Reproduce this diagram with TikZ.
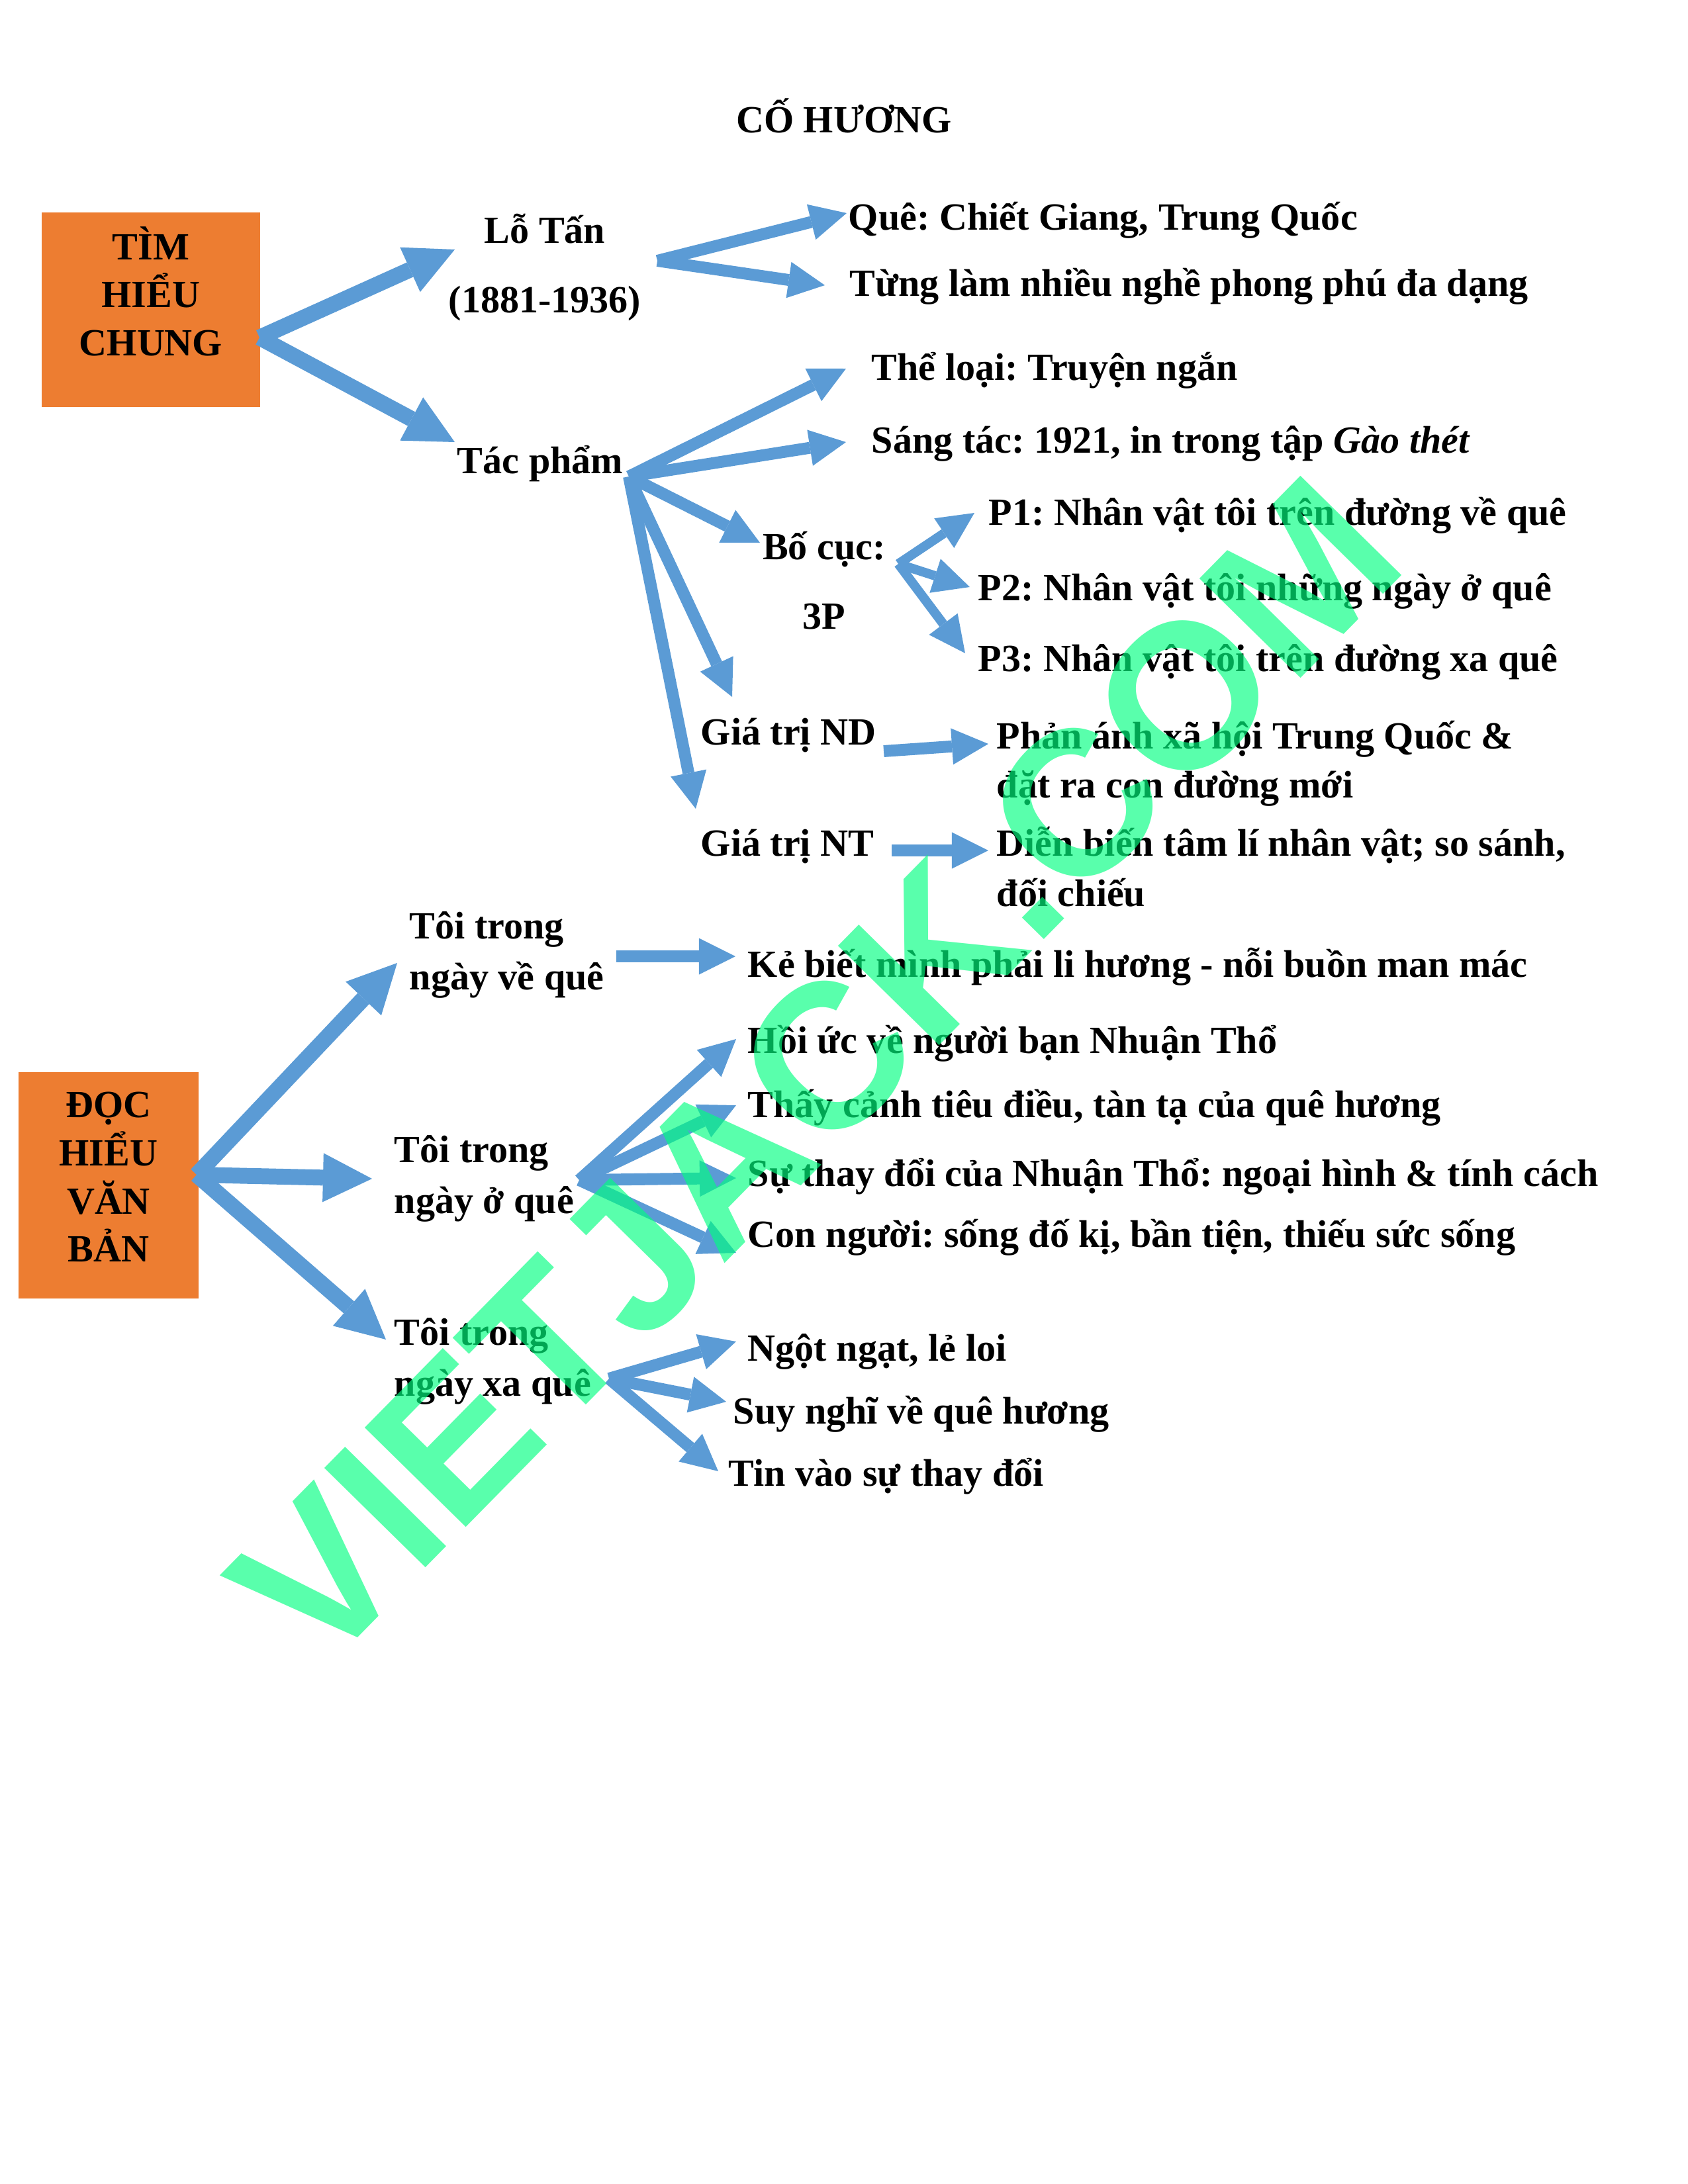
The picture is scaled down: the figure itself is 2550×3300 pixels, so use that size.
\documentclass[tikz,border=0pt]{standalone}
\usepackage{fontspec}
\setmainfont{Liberation Serif}
\newfontfamily\wmfont{Liberation Sans}
\usetikzlibrary{arrows.meta,calc}
\frenchspacing

\definecolor{boxorange}{HTML}{ED7D31}
\definecolor{arrowblue}{HTML}{5B9BD5}
\definecolor{wmgreen}{RGB}{0,255,128}

\tikzset{
  txt/.style={font=\fontsize{14pt}{17.5pt}\selectfont\bfseries, inner sep=0pt},
  leaf/.style={txt, anchor=west, text height=1.04em, text depth=0.22em},
  branch/.style={txt, anchor=west, align=left},
  headbox/.style={txt, fill=boxorange, align=center},
  bigarrow/.style={arrowblue, line width=2.03mm, -{Triangle[length=6.27mm, width=6.27mm, line width=0pt]}},
  midarrow/.style={arrowblue, line width=1.52mm, -{Triangle[length=4.66mm, width=4.66mm, line width=0pt]}},
  thinarrow/.style={arrowblue, line width=1.19mm, -{Triangle[length=4.66mm, width=4.57mm, line width=0pt]}},
  wm/.style={text=wmgreen, opacity=0.65, font=\wmfont\bfseries\fontsize{75pt}{75pt}\selectfont, inner sep=0pt}
}

\begin{document}
\begin{tikzpicture}[x=0.0846667mm, y=-0.0846667mm]
    \useasboundingbox (0,0) rectangle (2550,3300);

    % Title
    \node[txt, text height=1.04em, text depth=0.22em] (title) at (1275,183) {CỐ HƯƠNG};

    % Part 1: Tim hieu chung
    \node[headbox, minimum width=27.94mm, minimum height=24.81mm, text depth=13.6pt] (tim) at (228,468) {TÌM\\HIỂU\\CHUNG};
    \coordinate (timhub) at (392,510);

    \node[txt, align=center] (lotan) at (823,404) {Lỗ Tấn\\[7.8pt](1881-1936)};
    \node[txt] (tacpham) at (816,701) {Tác phẩm};

    \draw[bigarrow] (timhub) -- ($(lotan)+(-136,-27)$);
    \draw[bigarrow] (timhub) -- ($(tacpham)+(-129,-33)$);

    % Tac gia
    \coordinate (lotanhub) at (993,394);
    \node[leaf] (que) at (1281,330) {Quê: Chiết Giang, Trung Quốc};
    \node[leaf] (tung) at (1283,430) {Từng làm nhiều nghề phong phú đa dạng};
    \draw[midarrow] (lotanhub) -- ($(que.west)+(-2,-8)$);
    \draw[midarrow] (lotanhub) -- ($(tung.west)+(-37,1)$);

    % Tac pham
    \coordinate (tphub) at (950,720);
    \node[leaf] (theloai) at (1316,557) {Thể loại: Truyện ngắn};
    \node[leaf] (sangtac) at (1316,667) {Sáng tác: 1921, in trong tập \textit{Gào thét}};
    \node[txt, align=center] (bocuc) at (1245,877) {Bố cục:\\[7.8pt]3P};
    \node[leaf] (giand) at (1058,1108) {Giá trị ND};
    \node[leaf] (giant) at (1058,1276) {Giá trị NT};
    \draw[midarrow] (tphub) -- ($(theloai.west)+(-38,0)$);
    \draw[midarrow] (tphub) -- ($(sangtac.west)+(-38,1)$);
    \draw[midarrow] (tphub) -- ($(bocuc)+(-97,-57)$);
    \draw[midarrow] (tphub) -- ($(giand.west)+(48,-55)$);
    \draw[midarrow] (tphub) -- ($(giant.west)+(-7,-54)$);

    % Bo cuc 3 phan
    \coordinate (bchub) at (1357,852);
    \node[leaf] (p1) at (1493,776) {P1: Nhân vật tôi trên đường về quê};
    \node[leaf] (p2) at (1477,890) {P2: Nhân vật tôi những ngày ở quê};
    \node[leaf] (p3) at (1477,997) {P3: Nhân vật tôi trên đường xa quê};
    \draw[thinarrow] (bchub) -- ($(p1.west)+(-21,-1)$);
    \draw[thinarrow] (bchub) -- ($(p2.west)+(-12,-3)$);
    \draw[thinarrow] (bchub) -- ($(p3.west)+(-19,-10)$);

    % Gia tri
    \node[branch] (phananh) at (1505,1154) {Phản ánh xã hội Trung Quốc \&\\[0.3pt]đặt ra con đường mới};
    \node[branch] (dienbien) at (1505,1310) {Diễn biến tâm lí nhân vật; so sánh,\\[0.8pt]đối chiếu};
    \coordinate (ndhub) at (1335,1135);
    \coordinate (nthub) at (1347,1285);
    \draw[midarrow] (ndhub) -- ($(phananh.west)+(-12,-30)$);
    \draw[midarrow] (nthub) -- ($(dienbien.west)+(-12,-25)$);

    % Part 2: Doc hieu van ban
    \node[headbox, minimum width=23.03mm, minimum height=28.96mm, text depth=6pt] (doc) at (164,1791) {ĐỌC\\HIỂU\\VĂN\\BẢN};
    \coordinate (dochub) at (297,1775);

    \node[branch] (toive) at (618,1443) {Tôi trong\\[1pt]ngày về quê};
    \node[branch] (toio) at (595,1781) {Tôi trong\\[1pt]ngày ở quê};
    \node[branch] (toixa) at (595,2057) {Tôi trong\\[1pt]ngày xa quê};
    \draw[bigarrow] (dochub) -- ($(toive.west)+(-18,12)$);
    \draw[bigarrow] (dochub) -- ($(toio.west)+(-33,0)$);
    \draw[bigarrow] (dochub) -- ($(toixa.west)+(-12,-33)$);

    % Ngay ve que
    \coordinate (vehub) at (931,1445);
    \node[leaf] (kebiet) at (1129,1459) {Kẻ biết mình phải li hương - nỗi buồn man mác};
    \draw[midarrow] (vehub) -- ($(kebiet.west)+(-18,-14)$);

    % Ngay o que
    \coordinate (ohub) at (875,1783);
    \node[leaf] (hoiuc) at (1129,1574) {Hồi ức về người bạn Nhuận Thổ};
    \node[leaf] (thaycanh) at (1129,1671) {Thấy cảnh tiêu điều, tàn tạ của quê hương};
    \node[leaf] (suthay) at (1129,1775) {Sự thay đổi của Nhuận Thổ: ngoại hình \& tính cách};
    \node[leaf] (connguoi) at (1129,1867) {Con người: sống đố kị, bần tiện, thiếu sức sống};
    \draw[midarrow] (ohub) -- ($(hoiuc.west)+(-17,-4)$);
    \draw[midarrow] (ohub) -- ($(thaycanh.west)+(-17,-1)$);
    \draw[midarrow] (ohub) -- ($(suthay.west)+(-17,5)$);
    \draw[midarrow] (ohub) -- ($(connguoi.west)+(-17,26)$);

    % Ngay xa que
    \coordinate (xahub) at (920,2083);
    \node[leaf] (ngot) at (1129,2039) {Ngột ngạt, lẻ loi};
    \node[leaf] (suynghi) at (1107,2134) {Suy nghĩ về quê hương};
    \node[leaf] (tinvao) at (1100,2228) {Tin vào sự thay đổi};
    \draw[midarrow] (xahub) -- ($(ngot.west)+(-17,-12)$);
    \draw[midarrow] (xahub) -- ($(suynghi.west)+(-10,-16)$);
    \draw[midarrow] (xahub) -- ($(tinvao.west)+(-15,-5)$);

    % Watermark
    \node[wm, rotate=45.5] (mark) at (1231,1618) {VIETJACK.COM};
\end{tikzpicture}
\end{document}
